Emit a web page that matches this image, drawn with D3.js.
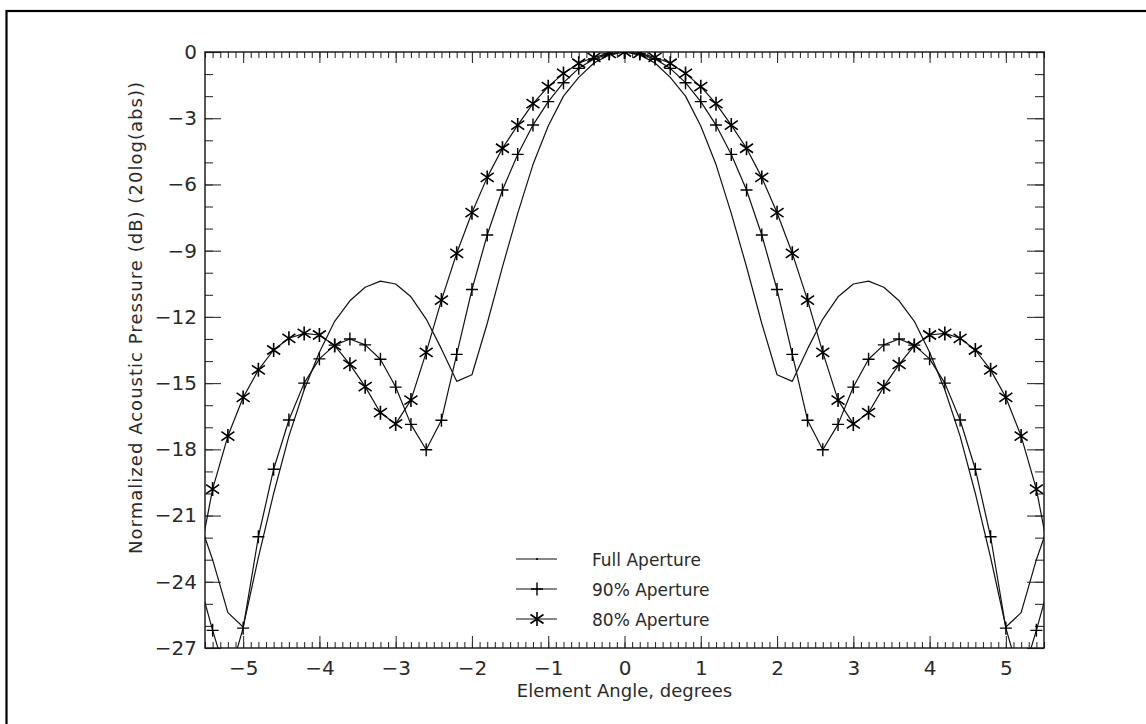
<!DOCTYPE html>
<html>
<head>
<meta charset="utf-8">
<script src="https://cdn.jsdelivr.net/npm/d3@7"></script>
<style>
  html, body { margin: 0; padding: 0; background: #fff; }
  svg { display: block; }
  text { font-family: "DejaVu Sans", sans-serif; fill: #2a2a2a; }
</style>
</head>
<body>
<svg id="chart" width="1146" height="724"></svg>
<script>
// Element angles (degrees) at which the beam pattern was sampled
const angles = [-5.6, -5.4, -5.2, -5.0, -4.8, -4.6, -4.4, -4.2, -4.0, -3.8, -3.6, -3.4, -3.2, -3.0,
                -2.8, -2.6, -2.4, -2.2, -2.0, -1.8, -1.6, -1.4, -1.2, -1.0, -0.8, -0.6, -0.4, -0.2,
                0.0,
                0.2, 0.4, 0.6, 0.8, 1.0, 1.2, 1.4, 1.6, 1.8, 2.0, 2.2, 2.4, 2.6, 2.8,
                3.0, 3.2, 3.4, 3.6, 3.8, 4.0, 4.2, 4.4, 4.6, 4.8, 5.0, 5.2, 5.4, 5.6];

// Normalized acoustic pressure, dB
const fullAperture = [-21.0, -23.0, -25.4, -26.05, -22.9, -20.0, -17.4, -15.3, -13.6, -12.2, -11.27, -10.66, -10.38, -10.51,
                      -11.09, -12.1, -13.45, -14.92, -14.62, -12.3, -9.73, -7.31, -5.1, -3.35, -2.0, -1.15, -0.5, -0.13,
                      0.0,
                      -0.13, -0.5, -1.15, -2.0, -3.35, -5.1, -7.31, -9.73, -12.3, -14.62, -14.92, -13.45, -12.1, -11.09,
                      -10.51, -10.38, -10.66, -11.27, -12.2, -13.6, -15.3, -17.4, -20.0, -22.9, -26.05, -25.4, -23.0, -21.0];

const aperture90 = [-23.7, -26.2, -28.5, -26.1, -21.96, -18.9, -16.67, -15.0, -13.9, -13.28, -13.0, -13.27, -13.92, -15.18,
                    -16.87, -18.02, -16.68, -13.7, -10.76, -8.29, -6.25, -4.64, -3.31, -2.25, -1.39, -0.74, -0.32, -0.08,
                    0.0,
                    -0.08, -0.32, -0.74, -1.39, -2.25, -3.31, -4.64, -6.25, -8.29, -10.76, -13.7, -16.68, -18.02, -16.87,
                    -15.18, -13.92, -13.27, -13.0, -13.28, -13.9, -15.0, -16.67, -18.9, -21.96, -26.1, -28.5, -26.2, -23.7];

const aperture80 = [-23.4, -19.8, -17.4, -15.65, -14.4, -13.5, -12.97, -12.75, -12.82, -13.3, -14.15, -15.16, -16.34, -16.85,
                    -15.77, -13.61, -11.24, -9.12, -7.28, -5.68, -4.36, -3.31, -2.34, -1.57, -0.97, -0.51, -0.24, -0.06,
                    0.0,
                    -0.06, -0.24, -0.51, -0.97, -1.57, -2.34, -3.31, -4.36, -5.68, -7.28, -9.12, -11.24, -13.61, -15.77,
                    -16.85, -16.34, -15.16, -14.15, -13.3, -12.82, -12.75, -12.97, -13.5, -14.4, -15.65, -17.4, -19.8, -23.4];

const seriesNames = ["Full Aperture", "90% Aperture", "80% Aperture"];
const xTickValues = [-5, -4, -3, -2, -1, 0, 1, 2, 3, 4, 5];
const yTickValues = [0, -3, -6, -9, -12, -15, -18, -21, -24, -27];
const xTitle = "Element Angle, degrees";
const yTitle = "Normalized Acoustic Pressure (dB) (20log(abs))";

const svg = d3.select("#chart");
const box = { left: 205, right: 1044, top: 52, bottom: 648 };

const x = d3.scaleLinear().domain([-5.5, 5.5]).range([box.left, box.right]);
const y = d3.scaleLinear().domain([-27, 0]).range([box.bottom, box.top]);

const xMinor = d3.range(-55, 56).map(i => i / 10);
const yMinor = d3.range(-27, 1);

// page frame
svg.append("rect")
  .attr("x", 6.5).attr("y", 11)
  .attr("width", 1400).attr("height", 1000)
  .attr("fill", "none").attr("stroke", "#000").attr("stroke-width", 2.2);

const tickColor = "#333";

function styleAxis(g) {
  g.select(".domain").remove();
  g.selectAll(".tick line").attr("stroke", tickColor).attr("stroke-width", 1.1);
  g.selectAll("text").attr("font-family", "DejaVu Sans, sans-serif").attr("fill", "#2a2a2a");
}

// bottom axis: labelled majors + minor ticks, pointing inward
svg.append("g").attr("transform", `translate(0,${box.bottom})`)
  .call(d3.axisBottom(x).tickValues(xMinor).tickSize(-6).tickFormat(""))
  .call(styleAxis);
svg.append("g").attr("transform", `translate(0,${box.bottom})`)
  .call(d3.axisBottom(x).tickValues(xTickValues).tickSize(-12).tickPadding(13).tickFormat(d3.format("d")))
  .call(styleAxis)
  .selectAll("text").attr("font-size", 20);

// top axis: ticks only
svg.append("g").attr("transform", `translate(0,${box.top})`)
  .call(d3.axisTop(x).tickValues(xMinor).tickSize(-6).tickFormat(""))
  .call(styleAxis);
svg.append("g").attr("transform", `translate(0,${box.top})`)
  .call(d3.axisTop(x).tickValues(xTickValues).tickSize(-11).tickFormat(""))
  .call(styleAxis);

// left axis
svg.append("g").attr("transform", `translate(${box.left},0)`)
  .call(d3.axisLeft(y).tickValues(yMinor).tickSize(-8).tickFormat(""))
  .call(styleAxis);
svg.append("g").attr("transform", `translate(${box.left},0)`)
  .call(d3.axisLeft(y).tickValues(yTickValues).tickSize(-16).tickPadding(8).tickFormat(d3.format("d")))
  .call(styleAxis)
  .selectAll("text").attr("font-size", 20);

// right axis: ticks only
svg.append("g").attr("transform", `translate(${box.right},0)`)
  .call(d3.axisRight(y).tickValues(yMinor).tickSize(-9).tickFormat(""))
  .call(styleAxis);
svg.append("g").attr("transform", `translate(${box.right},0)`)
  .call(d3.axisRight(y).tickValues(yTickValues).tickSize(-17).tickFormat(""))
  .call(styleAxis);

// plot box
svg.append("rect")
  .attr("x", box.left).attr("y", box.top)
  .attr("width", box.right - box.left).attr("height", box.bottom - box.top)
  .attr("fill", "none").attr("stroke", "#111").attr("stroke-width", 1.4);

// axis titles
svg.append("text")
  .attr("x", (box.left + box.right) / 2).attr("y", 697)
  .attr("text-anchor", "middle").attr("font-size", 18)
  .text(xTitle);

svg.append("text")
  .attr("transform", "translate(142,318) rotate(-90)")
  .attr("text-anchor", "middle").attr("font-size", 18)
  .attr("textLength", 472).attr("lengthAdjust", "spacing")
  .text(yTitle);

// data
svg.append("defs").append("clipPath").attr("id", "plotClip")
  .append("rect")
  .attr("x", box.left).attr("y", box.top)
  .attr("width", box.right - box.left).attr("height", box.bottom - box.top);

const plusPath = "M-6,0H6M0,-6.5V6.5";
const starPath = "M0,-7V7M-6.5,-4.5L6.5,4.5M-6.5,4.5L6.5,-4.5";

const series = [
  { name: seriesNames[0], values: fullAperture, marker: null },
  { name: seriesNames[1], values: aperture90, marker: plusPath },
  { name: seriesNames[2], values: aperture80, marker: starPath }
];

const line = d3.line().x(d => x(d[0])).y(d => y(d[1]));
const dataLayer = svg.append("g").attr("clip-path", "url(#plotClip)");

series.forEach(s => {
  const pts = angles.map((a, i) => [a, s.values[i]]);
  dataLayer.append("path")
    .datum(pts)
    .attr("d", line)
    .attr("fill", "none").attr("stroke", "#111").attr("stroke-width", 1.2)
    .attr("stroke-linejoin", "round");
  if (s.marker) {
    dataLayer.selectAll(null)
      .data(pts.filter(p => p[0] >= -5.5 && p[0] <= 5.5))
      .join("path")
      .attr("transform", p => `translate(${x(p[0])},${y(p[1])})`)
      .attr("d", s.marker)
      .attr("fill", "none").attr("stroke", "#000")
      .attr("stroke-width", s.marker === starPath ? 1.6 : 1.4);
  }
});

// legend
const legend = svg.append("g");
const legendRows = legend.selectAll("g")
  .data(series)
  .join("g")
  .attr("transform", (d, i) => `translate(0,${559 + i * 30})`);

legendRows.append("line")
  .attr("x1", 516).attr("x2", 557).attr("y1", 0).attr("y2", 0)
  .attr("stroke", "#111").attr("stroke-width", 1.2);
legendRows.filter(d => !d.marker).append("circle")
  .attr("cx", 537).attr("cy", 0).attr("r", 1.1).attr("fill", "#000");
legendRows.filter(d => d.marker).append("path")
  .attr("transform", "translate(537,0)")
  .attr("d", d => d.marker)
  .attr("fill", "none").attr("stroke", "#000")
  .attr("stroke-width", d => d.marker === starPath ? 1.6 : 1.4);
legendRows.append("text")
  .attr("x", 592).attr("y", 6.5)
  .attr("font-size", 17)
  .text(d => d.name);
</script>
</body>
</html>
